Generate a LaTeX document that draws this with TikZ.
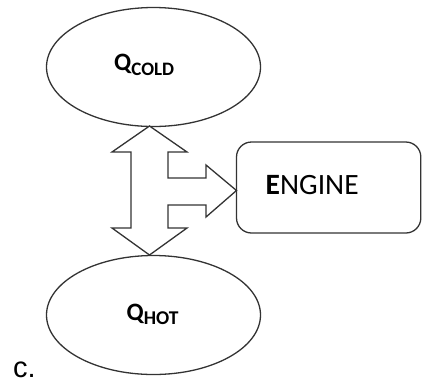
\documentclass[tikz,border=0pt]{standalone}
\usepackage{fontspec}
\setmainfont{Carlito}
\newfontfamily\labelfont{Liberation Sans}
\usetikzlibrary{shapes.geometric}
\begin{document}
\begin{tikzpicture}[x=1pt,y=-1pt,
  outline/.style={draw=black!80,line width=1.3pt},
  reservoir/.style={outline,ellipse,minimum width=214pt,minimum height=119pt,inner sep=0pt},
  enginebox/.style={outline,rounded corners=15pt},
  txt/.style={inner sep=0pt,anchor=base west}]
\useasboundingbox (0,0) rectangle (422,384);

% heat reservoirs
\node[reservoir] (cold) at (153.5,67) {};
\node[reservoir] (hot) at (153.5,315) {};

% engine block
\draw[enginebox] (236.5,142) rectangle (420.8,233);
\coordinate (engw) at (236.5,190.5);

% labels
\node[txt] (coldlbl) at (114,70)
  {{\fontsize{25}{25}\selectfont\bfseries Q}\raisebox{-5pt}{\fontsize{19}{19}\selectfont\bfseries COLD}};
\node[txt] (hotlbl) at (126.5,320)
  {{\fontsize{25}{25}\selectfont\bfseries Q}\raisebox{-4.5pt}{\fontsize{19.5}{19.5}\selectfont\bfseries HOT}};
\node[txt] (englbl) at (265.5,194)
  {\fontsize{29.5}{29.5}\selectfont\textbf{E}NGINE};
\node[txt] (tag) at (13,377.5) {\labelfont\fontsize{29}{29}\selectfont c.};

% double arrow between reservoirs with a branch to the engine
\coordinate (top) at (149.5,126);
\coordinate (bot) at (149.5,255);
\draw[outline,fill=white,line join=miter]
  (top) -- (187,152) -- (168,152) -- (168,178) -- (206,178) -- (206,165)
  -- (engw) -- (206,217) -- (206,205) -- (168,205) -- (168,228)
  -- (187,228) -- (bot) -- (112,228) -- (131,228) -- (131,152)
  -- (112,152) -- cycle;
\end{tikzpicture}
\end{document}
